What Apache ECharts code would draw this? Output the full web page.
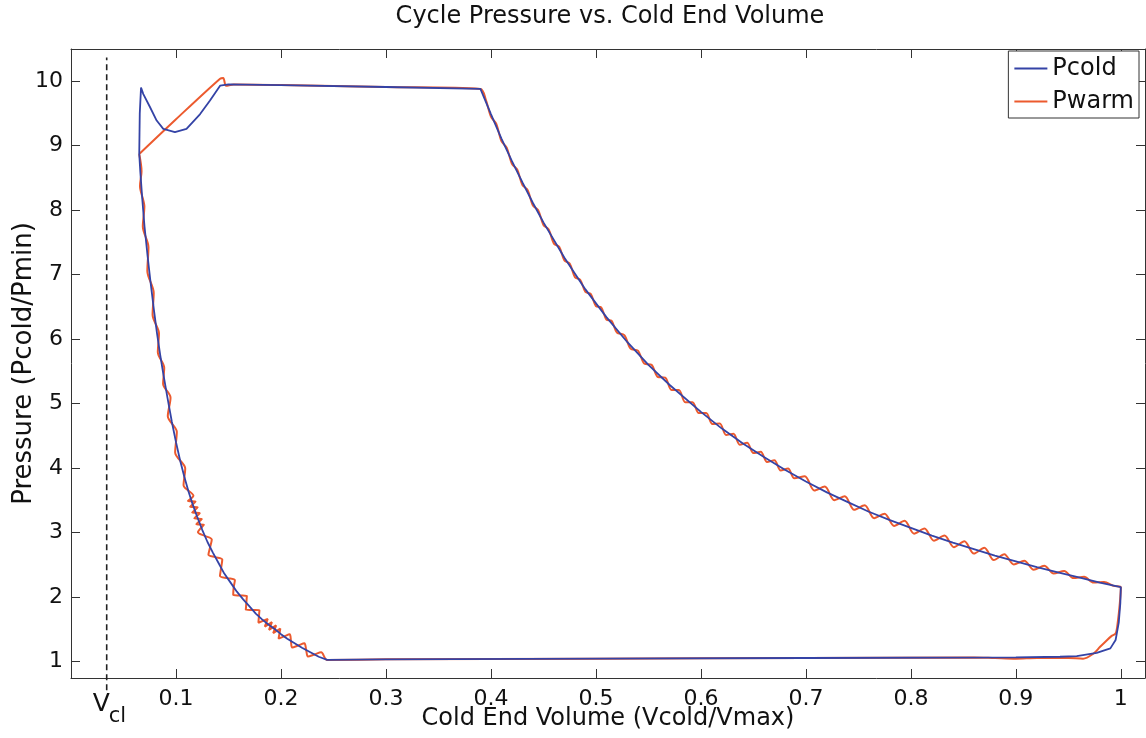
<!DOCTYPE html>
<html>
<head>
<meta charset="utf-8">
<title>Cycle Pressure vs. Cold End Volume</title>
<script src="https://cdn.jsdelivr.net/npm/echarts@6/dist/echarts.min.js"></script>
<style>
  html, body { margin: 0; padding: 0; background: #fff; }
  #chart { width: 1146px; height: 738px; }
</style>
</head>
<body>
<div id="chart"></div>
<script>
var FONT = "'DejaVu Sans', 'Liberation Sans', Arial, sans-serif";

// clearance volume marker and axis ticks
var vcl = 0.034;
var vclSpan = [0.55, 10.37];
var xTicks = [0.1, 0.2, 0.3, 0.4, 0.5, 0.6, 0.7, 0.8, 0.9, 1];
var yTicks = [1, 2, 3, 4, 5, 6, 7, 8, 9, 10];

// Pcold, going round the loop
var pcoldTop = [[0.065, 8.87], [0.0655, 9.5], [0.0667, 9.90], [0.0689, 9.80], [0.0752, 9.60], [0.0816, 9.39],
  [0.0879, 9.26], [0.099, 9.21], [0.110, 9.26], [0.123, 9.49], [0.1324, 9.70], [0.142, 9.93], [0.150, 9.95],
  [0.20, 9.94], [0.30, 9.91], [0.39, 9.88]];
var pcoldExpansion = [[0.40, 9.49], [0.41, 9.11], [0.42, 8.76], [0.43, 8.43], [0.44, 8.11], [0.45, 7.81],
  [0.47, 7.26], [0.49, 6.77], [0.51, 6.34], [0.53, 5.95], [0.55, 5.60], [0.57, 5.29], [0.60, 4.87], [0.62, 4.61],
  [0.64, 4.38], [0.66, 4.17], [0.68, 3.97], [0.70, 3.79], [0.72, 3.62], [0.74, 3.47], [0.76, 3.32], [0.78, 3.19],
  [0.80, 3.07], [0.82, 2.95], [0.84, 2.84], [0.86, 2.74], [0.88, 2.64], [0.90, 2.55], [0.92, 2.46], [0.94, 2.38],
  [0.96, 2.30], [0.98, 2.22], [1.000, 2.15]];
var pcoldExhaust = [[0.9995, 1.90], [0.998, 1.60], [0.995, 1.33], [0.990, 1.20], [0.977, 1.13], [0.958, 1.08],
  [0.942, 1.07], [0.90, 1.06], [0.70, 1.05], [0.50, 1.04], [0.30, 1.03], [0.244, 1.02]];
var pcoldCompression = [[0.236, 1.07], [0.228, 1.14], [0.220, 1.21], [0.213, 1.28], [0.206, 1.35], [0.200, 1.42],
  [0.194, 1.50], [0.188, 1.57], [0.182, 1.65], [0.176, 1.74], [0.170, 1.85], [0.164, 1.96], [0.158, 2.08],
  [0.152, 2.22], [0.146, 2.36], [0.140, 2.54], [0.135, 2.69], [0.130, 2.85], [0.125, 3.04], [0.120, 3.25],
  [0.116, 3.43], [0.112, 3.63], [0.108, 3.86], [0.104, 4.11], [0.100, 4.40], [0.096, 4.72], [0.092, 5.08],
  [0.088, 5.45], [0.085, 5.75], [0.082, 6.08], [0.079, 6.45], [0.076, 6.85], [0.073, 7.28], [0.070, 7.75],
  [0.068, 8.15], [0.066, 8.60], [0.065, 8.87]];

// Pwarm, same loop with the ripples
var pwarmTop = [[0.065, 8.87], [0.100, 9.41], [0.142, 10.04], [0.145, 10.05], [0.1477, 9.93], [0.155, 9.95],
  [0.20, 9.94], [0.30, 9.91], [0.39, 9.88]];
var pwarmExpansion = [[0.395, 9.72], [0.400, 9.45], [0.405, 9.34], [0.410, 9.07], [0.415, 8.97], [0.420, 8.72],
  [0.425, 8.63], [0.430, 8.39], [0.435, 8.31], [0.440, 8.07], [0.445, 8.00], [0.450, 7.77], [0.455, 7.70],
  [0.460, 7.48], [0.465, 7.43], [0.470, 7.22], [0.475, 7.17], [0.480, 6.96], [0.485, 6.92], [0.490, 6.73],
  [0.495, 6.70], [0.500, 6.51], [0.505, 6.49], [0.510, 6.30], [0.515, 6.28], [0.520, 6.10],
  [0.527, 6.06], [0.533, 5.85], [0.540, 5.82], [0.546, 5.62], [0.553, 5.60], [0.559, 5.41], [0.566, 5.40],
  [0.572, 5.21], [0.579, 5.21], [0.585, 5.02], [0.592, 5.02], [0.598, 4.85], [0.605, 4.85], [0.611, 4.68],
  [0.618, 4.69], [0.624, 4.51], [0.631, 4.53], [0.637, 4.36], [0.644, 4.39], [0.650, 4.23], [0.657, 4.25],
  [0.663, 4.09], [0.670, 4.12], [0.676, 3.96], [0.683, 3.99], [0.689, 3.84],
  [0.699, 3.87], [0.708, 3.65], [0.718, 3.71], [0.727, 3.50], [0.737, 3.56], [0.746, 3.35], [0.756, 3.42],
  [0.765, 3.22], [0.775, 3.29], [0.784, 3.10], [0.794, 3.18], [0.803, 2.98], [0.813, 3.06], [0.822, 2.87],
  [0.832, 2.95], [0.841, 2.77], [0.851, 2.86], [0.860, 2.67], [0.870, 2.76], [0.879, 2.57], [0.889, 2.66],
  [0.898, 2.50], [0.908, 2.56], [0.917, 2.42], [0.927, 2.48], [0.936, 2.36], [0.946, 2.40], [0.955, 2.29],
  [0.965, 2.31], [0.974, 2.22], [0.984, 2.23], [0.993, 2.17], [1.000, 2.15]];
var pwarmExhaust = [[0.999, 1.90], [0.997, 1.60], [0.995, 1.43], [0.991, 1.39], [0.985, 1.30], [0.980, 1.22],
  [0.974, 1.12], [0.964, 1.04], [0.950, 1.05], [0.92, 1.05], [0.90, 1.04], [0.88, 1.05], [0.86, 1.06],
  [0.70, 1.05], [0.50, 1.04], [0.30, 1.03], [0.244, 1.02]];
var pwarmCompression = [[0.2383, 1.138], [0.232, 1.105], [0.2257, 1.072], [0.224, 1.175], [0.2223, 1.278],
  [0.2165, 1.245], [0.2107, 1.212], [0.2095, 1.315], [0.2083, 1.418], [0.203, 1.385], [0.1977, 1.352],
  [0.1994, 1.508], [0.1926, 1.437], [0.1954, 1.558], [0.1886, 1.487], [0.1914, 1.608], [0.1846, 1.537],
  [0.1874, 1.658], [0.1785, 1.598], [0.179, 1.695], [0.1795, 1.792], [0.173, 1.795], [0.1665, 1.798],
  [0.167, 1.905], [0.1675, 2.012], [0.161, 2.02], [0.1545, 2.028], [0.155, 2.15], [0.1561, 2.258],
  [0.149, 2.29], [0.1419, 2.322], [0.143, 2.45], [0.1441, 2.578], [0.1375, 2.615], [0.1309, 2.652],
  [0.1325, 2.77], [0.1341, 2.888], [0.1275, 2.945], [0.1209, 3.002],
  [0.1266, 3.118], [0.1194, 3.127], [0.1246, 3.208], [0.1174, 3.217], [0.1226, 3.298],
  [0.1154, 3.307], [0.1206, 3.388], [0.1134, 3.397], [0.1186, 3.478], [0.1114, 3.487], [0.1166, 3.568],
  [0.1072, 3.73], [0.1088, 3.99], [0.0992, 4.24], [0.1008, 4.56], [0.0922, 4.80], [0.0948, 5.09],
  [0.0877, 5.305], [0.0888, 5.555], [0.0827, 5.795], [0.0838, 6.085], [0.0777, 6.375], [0.0788, 6.715],
  [0.0727, 7.055], [0.0738, 7.425], [0.0684, 7.745], [0.0699, 8.055], [0.0657, 8.375], [0.0672, 8.605],
  [0.065, 8.87]];

var pcold = pcoldTop.concat(pcoldExpansion, pcoldExhaust, pcoldCompression);
var pwarm = pwarmTop.concat(pwarmExpansion, pwarmExhaust, pwarmCompression);

var chart = echarts.init(document.getElementById("chart"));

var axisLine = { show: true, onZero: false, lineStyle: { color: "#333", width: 1 } };
var tickStyle = { color: "#333", width: 1 };
var labelStyle = { fontSize: 22, color: "#111", fontFamily: FONT };

var option = {
  animation: false,
  backgroundColor: "#fff",
  textStyle: { fontFamily: FONT },
  title: {
    text: "Cycle Pressure vs. Cold End Volume",
    left: 605,
    top: 0,
    textAlign: "center",
    textStyle: { fontSize: 24, fontWeight: "normal", color: "#111", fontFamily: FONT }
  },
  legend: {
    orient: "vertical",
    right: 7,
    top: 51,
    padding: [4, 5, 3, 6],
    itemGap: 6,
    itemWidth: 33,
    itemHeight: 2,
    icon: "rect",
    borderColor: "#333",
    borderWidth: 1,
    backgroundColor: "#fff",
    textStyle: { fontSize: 24, lineHeight: 27, color: "#111", fontFamily: FONT },
    data: ["Pcold", "Pwarm"]
  },
  grid: { left: 71, top: 49, right: 1, bottom: 60, outerBoundsMode: "none", containLabel: false },
  xAxis: [
    {
      type: "value", min: 0, max: 1.023, position: "bottom",
      name: "Cold End Volume (Vcold/Vmax)", nameLocation: "middle", nameGap: 29, nameMoveOverlap: false,
      nameTextStyle: { fontSize: 24, color: "#111", fontFamily: FONT },
      axisLine: axisLine,
      axisTick: { inside: true, length: 9, customValues: xTicks, lineStyle: tickStyle },
      axisLabel: Object.assign({ customValues: xTicks, margin: 10 }, labelStyle),
      splitLine: { show: false }
    },
    {
      type: "value", min: 0, max: 1.023, position: "top",
      axisLine: axisLine,
      axisTick: { inside: true, length: 9, customValues: xTicks, lineStyle: tickStyle },
      axisLabel: { show: false },
      splitLine: { show: false }
    }
  ],
  yAxis: [
    {
      type: "value", min: 0.74, max: 10.5, position: "left",
      name: "Pressure (Pcold/Pmin)", nameLocation: "middle", nameGap: 34, nameMoveOverlap: false,
      nameTextStyle: { fontSize: 26, color: "#111", fontFamily: FONT },
      axisLine: axisLine,
      axisTick: { inside: true, length: 9, customValues: yTicks, lineStyle: tickStyle },
      axisLabel: Object.assign({ customValues: yTicks, margin: 8 }, labelStyle),
      splitLine: { show: false }
    },
    {
      type: "value", min: 0.74, max: 10.5, position: "right",
      axisLine: axisLine,
      axisTick: { inside: true, length: 9, customValues: yTicks, lineStyle: tickStyle },
      axisLabel: { show: false },
      splitLine: { show: false }
    }
  ],
  series: [
    {
      name: "Pcold",
      type: "line",
      data: pcold,
      showSymbol: false,
      z: 4,
      color: "#3443a6",
      lineStyle: { width: 1.8, color: "#3443a6" }
    },
    {
      name: "Pwarm",
      type: "line",
      data: pwarm,
      showSymbol: false,
      smooth: 0.3,
      z: 3,
      color: "#ec5a2e",
      lineStyle: { width: 2, color: "#ec5a2e" }
    },
    {
      name: "Vcl",
      type: "line",
      data: [[vcl, vclSpan[0]], [vcl, vclSpan[1]]],
      showSymbol: false,
      clip: false,
      silent: true,
      z: 2,
      lineStyle: { width: 1.6, color: "#222", type: [6, 4] }
    }
  ]
};

chart.setOption(option);

// V_cl label under the dashed line
var vx = chart.convertToPixel({ xAxisIndex: 0 }, vcl);
chart.setOption({
  graphic: [
    { type: "text", left: vx - 14, top: 692, style: { text: "V", fontSize: 25, fill: "#111", fontFamily: FONT } },
    { type: "text", left: vx + 2, top: 706, style: { text: "cl", fontSize: 21, fill: "#111", fontFamily: FONT } }
  ]
});
</script>
</body>
</html>
